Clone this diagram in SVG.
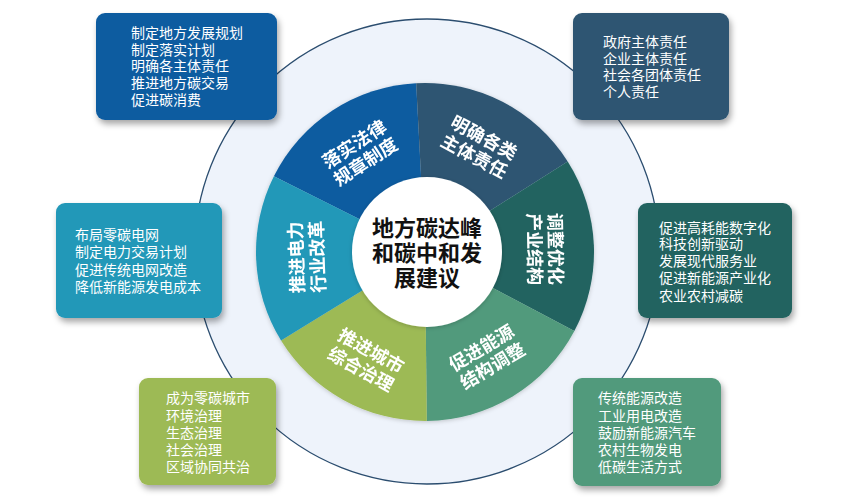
<svg xmlns="http://www.w3.org/2000/svg" width="850" height="500" viewBox="0 0 850 500">
<defs>
<filter id="sh" x="-20%" y="-20%" width="140%" height="150%">
<feDropShadow dx="2" dy="4" stdDeviation="3" flood-color="#000" flood-opacity="0.35"/>
</filter>
<filter id="sh2" x="-10%" y="-10%" width="120%" height="120%">
<feDropShadow dx="0" dy="1" stdDeviation="2" flood-color="#000" flood-opacity="0.2"/>
</filter>
<style>
.bt{font-family:"Liberation Sans","Noto Sans CJK SC",sans-serif;font-size:14px;fill:#ffffff;}
.st{font-family:"Liberation Sans","Noto Sans CJK SC",sans-serif;font-size:18px;font-weight:bold;fill:#ffffff;text-anchor:middle;}
.ct{font-family:"Liberation Sans","Noto Sans CJK SC",sans-serif;font-size:22px;font-weight:bold;fill:#111111;text-anchor:middle;}
.box{filter:url(#sh);}
</style>
</defs>
<rect width="850" height="500" fill="#ffffff"/>
<g id="ring">
<circle cx="427" cy="251.5" r="232.5" fill="#eef3fb" stroke="#2b4d6f" stroke-width="1.3"/>
</g>
<g id="wheel" filter="url(#sh2)">
<g id="seg-luoshi">
<path d="M425,252 L273.88,176.32 A169,169 0 0 1 416.16,83.24 Z" fill="#0b5ba0"/>
<text class="st" transform="translate(360,153) rotate(-33)"><tspan x="0" y="-4">落实法律</tspan><tspan x="0" y="17">规章制度</tspan></text>
</g>
<g id="seg-mingque">
<path d="M425,252 L416.16,83.24 A169,169 0 0 1 567.69,161.45 Z" fill="#2d5572"/>
<text class="st" transform="translate(479,147) rotate(28)"><tspan x="0" y="-4">明确各类</tspan><tspan x="0" y="17">主体责任</tspan></text>
</g>
<g id="seg-tiaozheng">
<path d="M425,252 L567.69,161.45 A169,169 0 0 1 574.36,331.08 Z" fill="#226461"/>
<text class="st" transform="translate(545,249) rotate(89)"><tspan x="0" y="-4">调整优化</tspan><tspan x="0" y="17">产业结构</tspan></text>
</g>
<g id="seg-nengyuan">
<path d="M425,252 L574.36,331.08 A169,169 0 0 1 426.77,420.99 Z" fill="#519a7b"/>
<text class="st" transform="translate(487,357) rotate(-31)"><tspan x="0" y="-4">促进能源</tspan><tspan x="0" y="17">结构调整</tspan></text>
</g>
<g id="seg-chengshi">
<path d="M425,252 L426.77,420.99 A169,169 0 0 1 281.06,340.56 Z" fill="#9dba54"/>
<text class="st" transform="translate(366,360) rotate(29)"><tspan x="0" y="-4">推进城市</tspan><tspan x="0" y="17">综合治理</tspan></text>
</g>
<g id="seg-dianli">
<path d="M425,252 L281.06,340.56 A169,169 0 0 1 273.88,176.32 Z" fill="#2298b8"/>
<text class="st" transform="translate(307,257) rotate(-92)"><tspan x="0" y="-4">推进电力</tspan><tspan x="0" y="17">行业改革</tspan></text>
</g>
</g>
<g id="center">
<circle cx="427" cy="252" r="75" fill="#ffffff" filter="url(#sh2)"/>
<text class="ct"><tspan x="427" y="236">地方碳达峰</tspan><tspan x="427" y="261">和碳中和发</tspan><tspan x="427" y="286">展建议</tspan></text>
</g>
<g id="box-tl">
<rect class="box" x="96" y="13" width="181" height="107" rx="9" fill="#0b5ba0"/>
<text class="bt"><tspan x="131" y="38">制定地方发展规划</tspan><tspan x="131" y="55">制定落实计划</tspan><tspan x="131" y="71">明确各主体责任</tspan><tspan x="131" y="88">推进地方碳交易</tspan><tspan x="131" y="105">促进碳消费</tspan></text>
</g>
<g id="box-tr">
<rect class="box" x="573" y="13" width="156" height="107" rx="9" fill="#2d5572"/>
<text class="bt"><tspan x="603" y="47">政府主体责任</tspan><tspan x="603" y="64">企业主体责任</tspan><tspan x="603" y="80">社会各团体责任</tspan><tspan x="603" y="97">个人责任</tspan></text>
</g>
<g id="box-ml">
<rect class="box" x="56" y="203" width="166" height="115" rx="9" fill="#2298b8"/>
<text class="bt"><tspan x="75" y="240">布局零碳电网</tspan><tspan x="75" y="257">制定电力交易计划</tspan><tspan x="75" y="275">促进传统电网改造</tspan><tspan x="75" y="292">降低新能源发电成本</tspan></text>
</g>
<g id="box-mr">
<rect class="box" x="638" y="203" width="154" height="115" rx="9" fill="#226461"/>
<text class="bt"><tspan x="659" y="233">促进高耗能数字化</tspan><tspan x="659" y="249">科技创新驱动</tspan><tspan x="659" y="266">发展现代服务业</tspan><tspan x="659" y="283">促进新能源产业化</tspan><tspan x="659" y="301">农业农村减碳</tspan></text>
</g>
<g id="box-bl">
<rect class="box" x="139" y="378" width="137" height="107" rx="9" fill="#9dba54"/>
<text class="bt"><tspan x="166" y="403">成为零碳城市</tspan><tspan x="166" y="421">环境治理</tspan><tspan x="166" y="438">生态治理</tspan><tspan x="166" y="455">社会治理</tspan><tspan x="166" y="472">区域协同共治</tspan></text>
</g>
<g id="box-br">
<rect class="box" x="573" y="378" width="148" height="108" rx="9" fill="#519a7b"/>
<text class="bt"><tspan x="598" y="403">传统能源改造</tspan><tspan x="598" y="421">工业用电改造</tspan><tspan x="598" y="438">鼓励新能源汽车</tspan><tspan x="598" y="455">农村生物发电</tspan><tspan x="598" y="472">低碳生活方式</tspan></text>
</g>
<g id="connectors"></g>
</svg>
